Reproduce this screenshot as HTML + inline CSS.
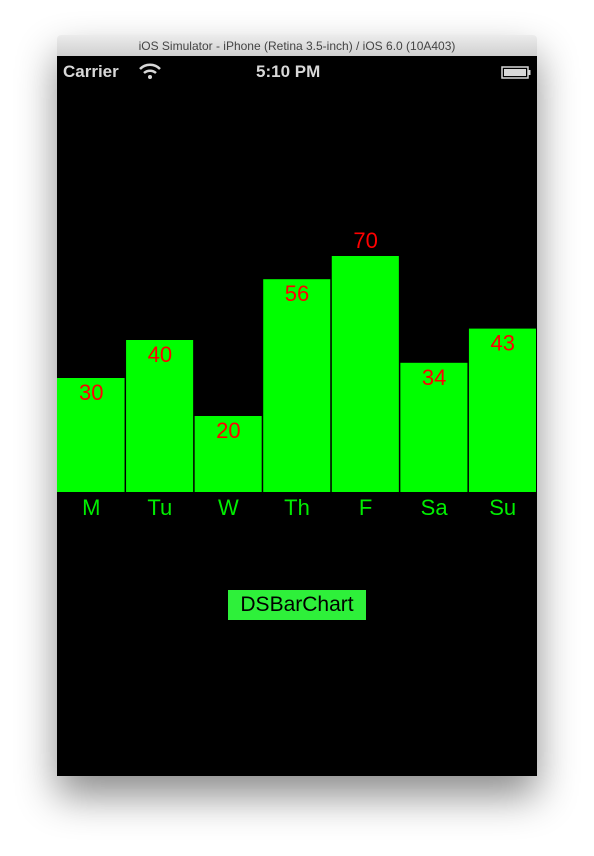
<!DOCTYPE html>
<html><head><meta charset="utf-8"><style>
body{margin:0;width:594px;height:856px;background:#fff;position:relative;overflow:hidden;font-family:"Liberation Sans",sans-serif}
#win{position:absolute;left:57px;top:35px;width:480px;height:741px;box-shadow:0 20px 40px rgba(0,0,0,.45);border-radius:4px 4px 0 0}
#title{position:absolute;left:0;top:0;width:480px;height:21px;background:linear-gradient(#ececec,#d0d0d0);border-radius:4px 4px 0 0;font-size:12px;color:#444;text-align:center;line-height:22px}
#screen{position:absolute;left:0;top:21px;width:480px;height:720px;background:#000}
.sb{position:absolute;color:#d8d8d8;font-weight:bold;font-size:17px;top:6px}
#btn{position:absolute;left:171px;top:534px;width:138px;height:30px;background:#2ef03a;color:#000;font-size:21px;line-height:30px;text-align:center}
</style></head><body>
<div id="win">
<div id="title">iOS Simulator - iPhone (Retina 3.5-inch) / iOS 6.0 (10A403)</div>
<div id="screen">
<div class="sb" style="left:6px">Carrier</div>
<svg style="position:absolute;left:82px;top:7px" width="22" height="16"><path d="M1 6 A14 14 0 0 1 21 6" stroke="#d8d8d8" stroke-width="2.5" fill="none"/><path d="M5 10 A9 9 0 0 1 17 10" stroke="#d8d8d8" stroke-width="2.5" fill="none"/><circle cx="11" cy="14" r="2" fill="#d8d8d8"/></svg>
<div class="sb" style="left:199px">5:10 PM</div>
<svg style="position:absolute;left:444px;top:10px" width="30" height="14"><rect x="1" y="1" width="26" height="11" fill="none" stroke="#d8d8d8" stroke-width="1.5"/><rect x="3" y="3" width="22" height="7" fill="#d8d8d8"/><rect x="27.5" y="4" width="2" height="5" fill="#d8d8d8"/></svg>
<svg id="chart" style="position:absolute;left:0;top:0" width="480" height="500"></svg>
<div id="btn">DSBarChart</div>
</div></div>
<script>
const categories=["M","Tu","W","Th","F","Sa","Su"];
const values=[30,40,20,56,70,34,43];
const svg=document.getElementById('chart');
const NS='http://www.w3.org/2000/svg';
const base=436, scale=3.8, maxH=236, slot=480/7;
function y(v){return base-v*scale;}
categories.forEach((c,i)=>{
  const x=i*slot;
  const h=Math.min(values[i]*scale,maxH);
  const r=document.createElementNS(NS,'rect');
  r.setAttribute('x',x+(i?0.5:0));r.setAttribute('y',base-h);
  r.setAttribute('width',slot-1-(i?0.5:0));r.setAttribute('height',h);
  r.setAttribute('fill','#00ff00');
  
  
  svg.appendChild(r);
  const t=document.createElementNS(NS,'text');
  t.setAttribute('x',x+slot/2);t.setAttribute('y',y(values[i])+22);
  t.setAttribute('text-anchor','middle');t.setAttribute('font-size','22');
  t.setAttribute('fill','#ff0000');t.setAttribute('font-family','Liberation Sans,sans-serif');
  t.textContent=values[i];
  
  
  svg.appendChild(t);
  const l=document.createElementNS(NS,'text');
  l.setAttribute('x',x+slot/2);l.setAttribute('y',base+23);
  l.setAttribute('text-anchor','middle');l.setAttribute('font-size','22');
  l.setAttribute('fill','#00ee00');l.setAttribute('font-family','Liberation Sans,sans-serif');
  l.textContent=c;
  
  
  svg.appendChild(l);
});
</script>
</body></html>
